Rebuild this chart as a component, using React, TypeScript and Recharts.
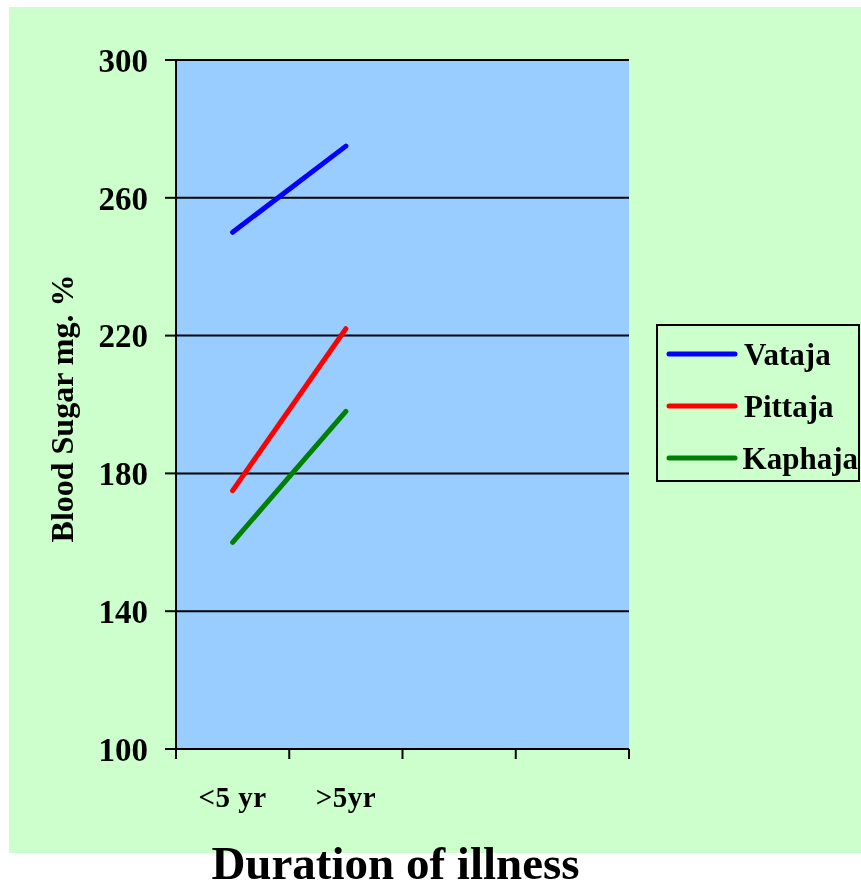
import { LineChart, Line, XAxis, YAxis, CartesianGrid, Legend } from "recharts";

const categories = ["<5 yr", ">5yr", " ", "  "];
const vataja = [250, 275];
const pittaja = [175, 222];
const kaphaja = [160, 198];
const yTicks = [100, 140, 180, 220, 260, 300];

const series = [
  { name: "Vataja", values: vataja, color: "#0000FF" },
  { name: "Pittaja", values: pittaja, color: "#FF0000" },
  { name: "Kaphaja", values: kaphaja, color: "#008000" },
];

const data = categories.map((cat, i) => {
  const row: Record<string, string | number | undefined> = { cat };
  series.forEach((s) => {
    row[s.name] = s.values[i];
  });
  return row;
});

const FONT = '"Liberation Serif", "Times New Roman", serif';

type ViewBox = { x: number; y: number; width: number; height: number };

// label in the middle of the band, tick marks on the band edges
const CategoryTick = (props: any) => {
  const { x, y, payload, index, visibleTicksCount, width } = props;
  const half = payload.offset ?? width / visibleTicksCount / 2;
  const isLast = index === visibleTicksCount - 1;
  return (
    <g>
      <line x1={x - half} y1={y} x2={x - half} y2={y + 10} stroke="#000" strokeWidth={2} />
      {isLast && <line x1={x + half} y1={y} x2={x + half} y2={y + 10} stroke="#000" strokeWidth={2} />}
      <text
        x={x}
        y={y + 58}
        textAnchor="middle"
        fontFamily={FONT}
        fontWeight="bold"
        fontSize={29}
        letterSpacing={0.5}
        fill="#000"
      >
        {payload.value}
      </text>
    </g>
  );
};

const renderYLabel = (props: { viewBox?: ViewBox }) => {
  const vb = props.viewBox as ViewBox;
  const x = vb.x + 73;
  const y = vb.y + vb.height / 2 + 4;
  return (
    <text
      x={x}
      y={y}
      transform={`rotate(-90, ${x}, ${y})`}
      textAnchor="middle"
      fontFamily={FONT}
      fontWeight="bold"
      fontSize={32}
      fill="#000"
    >
      Blood Sugar mg. %
    </text>
  );
};

const renderTitle = (props: { viewBox?: ViewBox }) => {
  const vb = props.viewBox as ViewBox;
  return (
    <text
      x={vb.x + vb.width / 2 - 7}
      y={vb.y + vb.height - 10}
      textAnchor="middle"
      fontFamily={FONT}
      fontWeight="bold"
      fontSize={47}
      fill="#000"
    >
      Duration of illness
    </text>
  );
};

const renderLegend = () => (
  <div
    style={{
      width: 204,
      height: 158,
      boxSizing: "border-box",
      border: "2px solid #000",
      paddingTop: 2,
      fontFamily: FONT,
      fontWeight: "bold",
      fontSize: 31,
      lineHeight: 1,
      color: "#000",
    }}
  >
    {series.map((s) => (
      <div key={s.name} style={{ display: "flex", alignItems: "center", height: 52 }}>
        <svg width={74} height={8} style={{ marginLeft: 7 }}>
          <line x1={4} y1={4} x2={70} y2={4} stroke={s.color} strokeWidth={5} strokeLinecap="round" />
        </svg>
        <span style={{ marginLeft: 5 }}>{s.name}</span>
      </div>
    ))}
  </div>
);

export default function App() {
  return (
    <div style={{ position: "fixed", left: 0, top: 0, width: 861, height: 889 }}>
      <div
        style={{ position: "absolute", left: 9, top: 7, width: 852, height: 846, background: "#CCFFCC" }}
      />
      <div style={{ position: "absolute", left: 0, top: 0 }}>
        <LineChart width={861} height={889} data={data} margin={{ top: 60, right: 232, bottom: 0, left: 0 }}>
          <CartesianGrid
            xAxisId="cat"
            yAxisId="left"
            vertical={false}
            stroke="#000"
            strokeWidth={2}
            fill="#99CCFF"
            fillOpacity={1}
          />
          <XAxis
            xAxisId="cat"
            dataKey="cat"
            scale="band"
            interval={0}
            height={140}
            tickSize={0}
            tickMargin={0}
            tickLine={false}
            axisLine={{ stroke: "#000", strokeWidth: 2 }}
            tick={<CategoryTick />}
            label={{ content: renderTitle }}
          />
          <YAxis
            yAxisId="left"
            domain={[100, 300]}
            ticks={yTicks}
            interval={0}
            width={176}
            tickSize={11}
            tickMargin={17}
            axisLine={{ stroke: "#000", strokeWidth: 2 }}
            tickLine={{ stroke: "#000", strokeWidth: 2 }}
            tick={{ fill: "#000", fontSize: 33, fontWeight: "bold", fontFamily: FONT }}
            label={{ content: renderYLabel }}
          />
          <YAxis
            yAxisId="right"
            orientation="right"
            domain={[100, 300]}
            width={0}
            tick={false}
            tickLine={false}
            axisLine={{ stroke: "#000", strokeWidth: 2 }}
          />
          {series.map((s) => (
            <Line
              key={s.name}
              xAxisId="cat"
              yAxisId="left"
              type="linear"
              dataKey={s.name}
              stroke={s.color}
              strokeWidth={5}
              strokeLinecap="round"
              dot={false}
              activeDot={false}
              isAnimationActive={false}
            />
          ))}
          <Legend
            layout="horizontal"
            align="center"
            verticalAlign="middle"
            wrapperStyle={{ left: 656, top: 324, width: 204, height: 158 }}
            content={renderLegend}
          />
        </LineChart>
      </div>
    </div>
  );
}
